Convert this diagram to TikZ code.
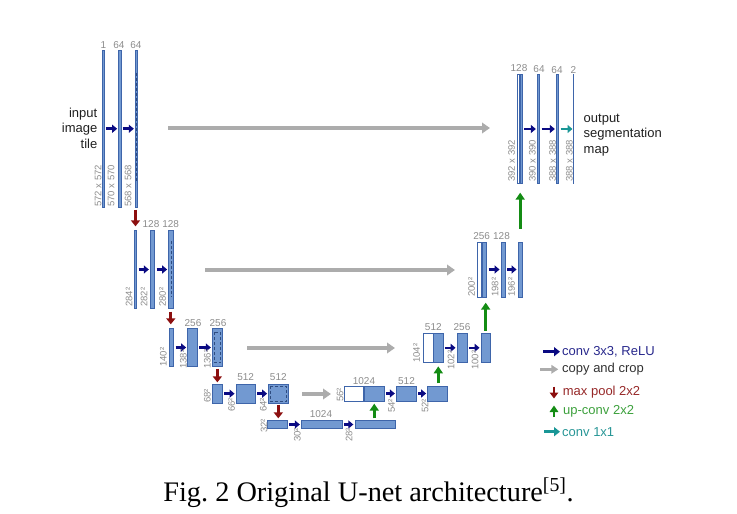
\documentclass[tikz,border=0pt]{standalone}
\usepackage{fontspec}
\setmainfont{Liberation Serif}
\setsansfont{Liberation Sans}
\usetikzlibrary{arrows.meta,calc}

\definecolor{barfill}{RGB}{114,153,209}
\definecolor{barline}{RGB}{62,101,170}
\definecolor{lblgray}{RGB}{140,140,140}
\definecolor{convblue}{RGB}{10,10,130}
\definecolor{copygray}{RGB}{172,172,172}
\definecolor{pooldred}{RGB}{140,15,15}
\definecolor{upgreen}{RGB}{20,140,20}
\definecolor{tealc}{RGB}{25,150,150}
\definecolor{convtext}{RGB}{40,40,140}
\definecolor{copytext}{RGB}{50,50,50}
\definecolor{pooltext}{RGB}{150,40,40}
\definecolor{uptext}{RGB}{60,160,60}
\definecolor{tealtext}{RGB}{40,150,150}

\newcommand{\UBar}[6][barfill]{%
  \pgfmathsetmacro\ubcx{(#3+#4)/2}\pgfmathsetmacro\ubcy{(#5+#6)/2}%
  \pgfmathsetmacro\ubw{max(#4-#3-0.7,0.6)}\pgfmathsetmacro\ubh{#6-#5-0.7}%
  \node[ubar, fill=#1, minimum width=\ubw pt, minimum height=\ubh pt] (#2) at (\ubcx,\ubcy) {};}

\begin{document}
\begin{tikzpicture}[x=1pt,y=-1pt,
  ubar/.style={rectangle, draw=barline, line width=0.7pt, inner sep=0pt, outer sep=0pt},
  cropline/.style={draw=barline!75!black, densely dashed, line width=0.6pt},
  chlbl/.style={font=\sffamily\fontsize{10}{11}\selectfont, text=lblgray, inner sep=0pt},
  dimlbl/.style={font=\sffamily\fontsize{9.5}{10}\selectfont, text=lblgray, inner sep=0pt, rotate=90, anchor=west},
  sidetext/.style={font=\sffamily\fontsize{13}{15.5}\selectfont, text=black!88, inner sep=0pt},
  legtext/.style={font=\sffamily\fontsize{13}{15.5}\selectfont, inner sep=0pt, anchor=west},
  convarrow/.style={draw=convblue, line width=2.6pt, -{Triangle[length=5pt,width=8pt]}},
  copyarrow/.style={draw=copygray, line width=3.8pt, -{Triangle[length=8pt,width=10.5pt]}},
  poolarrow/.style={draw=pooldred, line width=3pt, -{Triangle[length=6pt,width=9pt]}},
  uparrow/.style={draw=upgreen, line width=3pt, -{Triangle[length=7pt,width=9pt]}},
  tealarrow/.style={draw=tealc, line width=2.6pt, -{Triangle[length=5pt,width=8pt]}},
  ]
\useasboundingbox (0,0) rectangle (737,514);

% ---------------- level 1 (left)
\UBar{a1}{102.3}{104.3}{49.5}{208}
\UBar{a2}{118.3}{121.3}{49.5}{208}
\UBar{a3}{135}{138}{49.5}{208}
\draw[cropline] ($(a3.north)+(0,23)$) -- ($(a3.south)+(0,-25)$);
% ---------------- level 2
\UBar{b1}{134}{137}{230}{309}
\UBar{b2}{150}{155}{230}{309}
\UBar{b3}{168.3}{173.3}{230}{309}
\draw[cropline] ($(b3.north)+(0,11)$) -- ($(b3.south)+(0,-12)$);
% ---------------- level 3
\UBar{c1}{169}{174}{328}{367}
\UBar{c2}{187.3}{197.7}{328}{367}
\UBar{c3}{212}{222.7}{328}{367}
\draw[cropline] ($(c3.north west)+(1.6,4)$) rectangle ($(c3.south east)+(-1.6,-4)$);
% ---------------- level 4
\UBar{d1}{212.3}{222.7}{384}{403.3}
\UBar{d2}{235.7}{255.7}{384}{403.3}
\UBar{d3}{268.3}{288.3}{384}{403.3}
\draw[cropline] ($(d3.north west)+(1.6,1.6)$) rectangle ($(d3.south east)+(-1.6,-1.6)$);
% ---------------- level 5
\UBar{e1}{267.3}{287.3}{420}{429}
\UBar{e2}{301}{342.3}{420}{429}
\UBar{e3}{354.5}{395.5}{420}{429}
% ---------------- level 4 (right)
\UBar[white]{f1w}{344}{364}{385.5}{401.5}
\UBar{f1b}{364}{384.5}{385.5}{401.5}
\UBar{f2}{396}{416.7}{385.5}{401.5}
\UBar{f3}{427.3}{447.7}{385.5}{401.5}
% ---------------- level 3 (right)
\UBar[white]{g1w}{423.3}{433.3}{333.3}{362.3}
\UBar{g1b}{433.3}{443.3}{333.3}{362.3}
\UBar{g2}{456.7}{467.3}{333.3}{362.3}
\UBar{g3}{480.7}{490.7}{333.3}{362.3}
% ---------------- level 2 (right)
\UBar[white]{h1w}{476.7}{481.7}{241.7}{297.3}
\UBar{h1b}{481.7}{486.9}{241.7}{297.3}
\UBar{h2}{500.7}{505.7}{241.7}{297.3}
\UBar{h3}{517.7}{522.7}{241.7}{297.3}
% ---------------- level 1 (right)
\UBar[white]{i1w}{516.5}{519.5}{74}{184}
\UBar{i1b}{519.5}{522.5}{74}{184}
\UBar{i2}{537}{540}{74}{184}
\UBar{i3}{556}{559}{74}{184}
\node[rectangle, fill=barline, inner sep=0pt, minimum width=1.6pt, minimum height=110pt] (i4) at (573.5,129) {};

% ---------------- conv 3x3 arrows
\foreach \p/\q in {a1/a2,a2/a3,b1/b2,b2/b3,c1/c2,c2/c3,d1/d2,d2/d3,e1/e2,e2/e3,
                   f1b/f2,f2/f3,g1b/g2,g2/g3,h1b/h2,h2/h3,i1b/i2,i2/i3}
  \draw[convarrow, shorten <=2pt, shorten >=1.5pt] (\p.east) -- (\q.west);
\draw[tealarrow, shorten <=2pt] (i3.east) -- (i4.west);

% ---------------- max pool arrows
\draw[poolarrow, shorten <=2pt, shorten >=4pt] (a3.south -| b1) -- (b1.north);
\draw[poolarrow, shorten <=3pt, shorten >=4pt] (b3.south) -- (b3.south |- c1.north);
\draw[poolarrow, shorten <=2pt, shorten >=2pt] (c3.south) -- (c3.south |- d1.north);
\draw[poolarrow, shorten <=1.7pt, shorten >=2pt] (d3.south) -- (d3.south |- e1.north);

% ---------------- up-conv arrows
\draw[uparrow, shorten <=2pt, shorten >=2.5pt] (e3.north -| f1b) -- (f1b.south);
\draw[uparrow, shorten <=2.5pt, shorten >=4.4pt] (f3.north -| g1b) -- (g1b.south);
\draw[uparrow, shorten <=3pt, shorten >=5.7pt] (g3.north) -- (g3.north |- h1b.south);
\draw[uparrow, shorten <=13.5pt, shorten >=9pt] (h3.north) -- (h3.north |- i1b.south);

% ---------------- copy and crop arrows
\coordinate (k1s) at (168,128);  \coordinate (k1e) at (490,128);
\coordinate (k2s) at (205,270);  \coordinate (k2e) at (455,270);
\coordinate (k3s) at (247,348);  \coordinate (k3e) at (395,348);
\coordinate (k4s) at (302,394);  \coordinate (k4e) at (331,394);
\draw[copyarrow] (k1s) -- (k1e);
\draw[copyarrow] (k2s) -- (k2e);
\draw[copyarrow] (k3s) -- (k3e);
\draw[copyarrow] (k4s) -- (k4e);

% ---------------- channel labels
\node[chlbl] (la1) at (103.3,45) {1};
\node[chlbl] (la2) at (119,45) {64};
\node[chlbl] (la3) at (136,45) {64};
\node[chlbl] (lb2) at (151,224) {128};
\node[chlbl] (lb3) at (170.7,224) {128};
\node[chlbl] (lc2) at (193,323) {256};
\node[chlbl] (lc3) at (218,323) {256};
\node[chlbl] (ld2) at (245.7,377.3) {512};
\node[chlbl] (ld3) at (278.3,377.3) {512};
\node[chlbl] (le2) at (321,414) {1024};
\node[chlbl] (lf1) at (364,380.7) {1024};
\node[chlbl] (lf2) at (406.5,380.7) {512};
\node[chlbl] (lg1) at (433.3,326.7) {512};
\node[chlbl] (lg2) at (462,326.7) {256};
\node[chlbl] (lh1) at (481.7,236) {256};
\node[chlbl] (lh2) at (501.5,236) {128};
\node[chlbl] (li1) at (519,68.5) {128};
\node[chlbl] (li2) at (539,69) {64};
\node[chlbl] (li3) at (557,70) {64};
\node[chlbl] (li4) at (573.5,70) {2};

% ---------------- size labels
\node[dimlbl] (sa1) at (98,207) {572 x 572};
\node[dimlbl] (sa2) at (111,207) {570 x 570};
\node[dimlbl] (sa3) at (128,207) {568 x 568};
\node[dimlbl] (sb1) at (129,307) {284²};
\node[dimlbl] (sb2) at (144,307) {282²};
\node[dimlbl] (sb3) at (162.7,307) {280²};
\node[dimlbl] (sc1) at (163.3,367) {140²};
\node[dimlbl] (sc2) at (183.3,369) {138²};
\node[dimlbl] (sc3) at (207.3,369) {136²};
\node[dimlbl] (sd1) at (207.3,403) {68²};
\node[dimlbl] (sd2) at (231.7,412) {66²};
\node[dimlbl] (sd3) at (263.3,412) {64²};
\node[dimlbl] (se1) at (264,433) {32²};
\node[dimlbl] (se2) at (297.3,442) {30²};
\node[dimlbl] (se3) at (349,442) {28²};
\node[dimlbl] (sf1) at (340,402) {56²};
\node[dimlbl] (sf2) at (391.7,413) {54²};
\node[dimlbl] (sf3) at (425,413) {52²};
\node[dimlbl] (sg1) at (416.7,363) {104²};
\node[dimlbl] (sg2) at (451,370) {102²};
\node[dimlbl] (sg3) at (475,370) {100²};
\node[dimlbl] (sh1) at (471.7,297) {200²};
\node[dimlbl] (sh2) at (495,297) {198²};
\node[dimlbl] (sh3) at (511.7,297) {196²};
\node[dimlbl] (si1) at (511.7,182) {392 x 392};
\node[dimlbl] (si2) at (532.3,182) {390 x 390};
\node[dimlbl] (si3) at (552.7,182) {388 x 388};
\node[dimlbl] (si4) at (569.3,182) {388 x 388};

% ---------------- side texts
\node[sidetext, align=right, anchor=east] (inp) at (97.5,128) {input\\image\\tile};
\node[sidetext, align=left, anchor=west] (outp) at (583.5,135) {output\\segmentation\\map};

% ---------------- legend
\coordinate (g1s) at (543.3,351.7); \coordinate (g1e) at (560,351.7);
\coordinate (g2s) at (540,369.3);   \coordinate (g2e) at (558.3,369.3);
\coordinate (g3s) at (554,386.7);   \coordinate (g3e) at (554,398.5);
\coordinate (g4s) at (554,417);     \coordinate (g4e) at (554,405.5);
\coordinate (g5s) at (544,431.7);   \coordinate (g5e) at (560,431.7);
\draw[convarrow, -{Triangle[length=6pt,width=9pt]}] (g1s) -- (g1e);
\draw[copyarrow, line width=3pt, -{Triangle[length=7pt,width=8.5pt]}] (g2s) -- (g2e);
\draw[poolarrow, line width=2.8pt, -{Triangle[length=6pt,width=8.5pt]}] (g3s) -- (g3e);
\draw[uparrow, line width=2.8pt, -{Triangle[length=6.5pt,width=8.5pt]}] (g4s) -- (g4e);
\draw[tealarrow, -{Triangle[length=6pt,width=9pt]}] (g5s) -- (g5e);
\node[legtext, text=convtext] (t1) at (562,351.7) {conv 3x3, ReLU};
\node[legtext, text=copytext] (t2) at (562,369.5) {copy and crop};
\node[legtext, text=pooltext] (t3) at (562.7,392.5) {max pool 2x2};
\node[legtext, text=uptext]   (t4) at (563,411) {up-conv 2x2};
\node[legtext, text=tealtext] (t5) at (562,432) {conv 1x1};

% ---------------- caption
\node[font=\fontsize{28.3}{34}\selectfont, inner sep=0pt, anchor=base] (cap) at (368.5,501)
  {Fig.\ 2 Original U-net architecture\textsuperscript{[5]}.};
\end{tikzpicture}
\end{document}
